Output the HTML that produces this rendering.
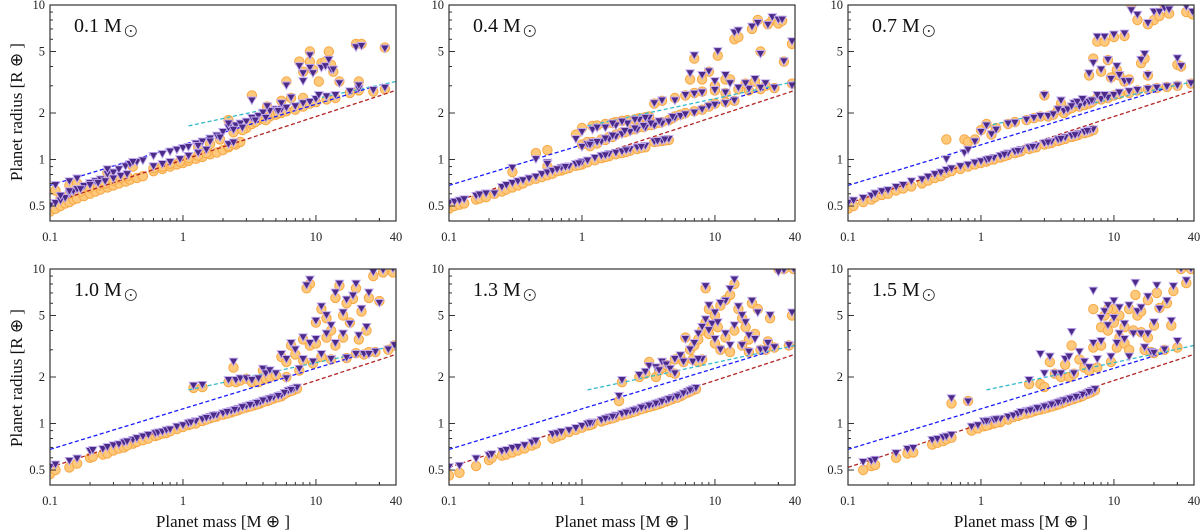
<!DOCTYPE html>
<html><head><meta charset="utf-8"><style>
html,body{margin:0;padding:0;background:#fff;}
svg{display:block;font-family:"Liberation Serif",serif;}
</style></head><body>
<svg id="chart" width="1200" height="532" viewBox="0 0 1200 532" xmlns="http://www.w3.org/2000/svg"></svg>
<script>
const panelLabels = ["0.1", "0.4", "0.7", "1.0", "1.3", "1.5"];
const xTicks = [0.1, 1, 10, 40];
const xTickLabels = ["0.1", "1", "10", "40"];
const yTicks = [0.5, 1, 2, 5, 10];
const yTickLabels = ["0.5", "1", "2", "5", "10"];
const blueLine = [[0.1,0.68],[25,2.9]];
const redLine = [[0.1,0.52],[40,2.8]];
const cyanLine = [[1.1,1.65],[40,3.2]];

// each entry: [mass, orange-circle radius, purple-triangle radius]
const panel1Points = [[0.1,0.46,0.5],[0.11,0.48,0.52],[0.12,0.5,0.54],[0.13,0.52,0.56],[0.14,0.53,0.6],[0.15,0.55,0.62],[0.16,0.56,0.64],[0.18,0.58,0.67],[0.2,0.6,0.7],[0.22,0.62,0.72],[0.24,0.64,0.74],[0.27,0.66,0.8],[0.3,0.68,0.82],[0.33,0.7,0.86],[0.37,0.72,0.9],[0.4,0.74,0.93],[0.45,0.76,0.96],[0.5,0.78,0.98],[0.6,0.84,1.05],[0.7,0.87,1.08],[0.8,0.9,1.12],[0.9,0.93,1.15],[1.0,0.95,1.18],[1.1,0.98,1.2],[1.25,1.01,1.26],[1.4,1.04,1.3],[1.6,1.08,1.36],[1.8,1.11,1.42],[2.0,1.15,1.5],[2.2,1.2,1.6],[2.5,1.25,1.65],[2.7,1.3,1.7],[3.0,1.6,1.75],[3.3,1.7,1.85],[3.7,1.8,1.9],[4.0,1.85,2.0],[4.5,1.9,2.05],[5.0,1.95,2.1],[5.5,2.0,2.1],[6,2.05,2.15],[7,2.1,2.2],[8,2.2,2.3],[9,2.3,2.35],[10,2.35,2.45],[12,2.45,2.55],[14,2.5,2.6],[18,2.7,2.75],[21,2.8,2.85],[27,2.75,2.8],[33,2.85,2.9],[0.11,0.63,0.68],[0.14,0.68,0.72],[0.16,0.7,0.75],[0.27,0.82,0.86],[0.42,0.9,0.96],[2.2,1.8,1.7],[3.3,2.6,2.4],[4.3,2.2,2.2],[5.5,2.4,2.3],[6,3.2,3.0],[6.5,2.5,2.5],[7.5,4.3,4.0],[8,3.7,3.6],[8,2.5,3.2],[9,5.0,4.7],[9,4.3,3.9],[9.5,3.8,3.6],[10.5,3.2,2.6],[11,4.2,3.9],[11.8,4.3,4.0],[12.5,5.0,4.4],[13,4.1,3.8],[13.5,3.7,3.8],[15,3.2,3.1],[20,5.6,5.3],[22,5.6,5.4],[21,3.2,3.0],[33,5.3,5.2],[0.12,0.56,0.58],[0.14,0.6,0.62],[0.17,0.62,0.64],[0.2,0.66,0.68],[0.23,0.68,0.7],[0.26,0.7,0.72],[0.3,0.73,0.75],[0.34,0.76,0.78],[0.38,0.78,0.8],[0.6,0.88,0.9],[0.7,0.9,0.93],[0.8,0.94,0.96],[0.95,0.97,1.0],[1.1,1.02,1.05],[1.3,1.06,1.1],[1.5,1.1,1.15],[2.2,1.22,1.25],[2.4,1.27,1.28],[1.3,1.2,1.22],[1.6,1.26,1.3],[1.9,1.35,1.38],[2.4,1.5,1.55],[2.8,1.55,1.6],[3.5,1.75,1.78],[4.2,1.8,1.85],[5.2,2.0,2.05]];
const panel2Points = [[0.1,0.48,0.52],[0.11,0.5,0.53],[0.12,0.51,0.54],[0.13,0.52,0.55],[0.16,0.55,0.58],[0.17,0.56,0.59],[0.19,0.57,0.6],[0.22,0.6,0.6],[0.25,0.62,0.66],[0.27,0.64,0.68],[0.3,0.66,0.7],[0.33,0.68,0.72],[0.36,0.7,0.73],[0.4,0.73,0.75],[0.45,0.75,0.77],[0.5,0.77,0.8],[0.55,0.79,0.82],[0.6,0.81,0.84],[0.7,0.85,0.88],[0.8,0.88,0.9],[0.9,0.91,0.93],[1.0,0.93,0.96],[1.1,0.96,0.98],[1.25,0.99,1.02],[1.4,1.02,1.05],[1.6,1.05,1.08],[1.8,1.08,1.1],[2.0,1.1,1.12],[2.3,1.14,1.16],[2.6,1.17,1.19],[3.0,1.2,1.22],[3.5,1.3,1.3],[4.0,1.32,1.32],[4.5,1.34,1.35],[1.0,1.25,1.2],[1.1,1.3,1.25],[1.2,1.3,1.28],[1.4,1.35,1.3],[1.6,1.4,1.35],[1.8,1.45,1.4],[2.0,1.5,1.45],[2.3,1.55,1.5],[2.6,1.6,1.55],[3,1.65,1.6],[3.5,1.7,1.65],[4,1.75,1.7],[4.5,1.8,1.75],[5,1.9,1.85],[5.5,1.95,1.9],[6,2.0,1.95],[7,2.05,2.0],[8,2.1,2.1],[9,2.2,2.2],[10,2.3,2.25],[12,2.35,2.3],[14,2.4,2.4],[0.9,1.45,1.35],[1.0,1.6,1.5],[1.2,1.65,1.55],[1.5,1.7,1.6],[1.8,1.75,1.65],[2.2,1.8,1.7],[2.7,1.85,1.8],[3.2,1.9,1.85],[3.5,2.3,2.3],[4,2.4,2.4],[5,2.5,2.4],[6,2.6,2.6],[7,2.7,2.65],[8,2.75,2.7],[10,2.8,2.8],[12,2.7,2.7],[15,2.85,2.9],[18,2.8,2.85],[22,2.85,2.9],[28,2.9,2.9],[38,3.1,3.0],[0.45,1.1,1.0],[0.55,1.15,0.95],[0.3,0.83,0.88],[0.55,0.9,0.93],[6.5,3.3,3.6],[7,4.5,4.7],[8,3.3,3.5],[9,3.7,3.7],[10,3.0,3.2],[10.5,4.7,5.0],[12,3.3,3.5],[13,3.3,3.1],[14,6.0,6.6],[15,6.2,6.8],[17,3.1,3.1],[19,7.0,7.2],[20,3.2,3.3],[22,5.0,4.8],[24,3.0,3.1],[27,8.0,8.3],[30,7.6,8.0],[32,7.9,8.0],[33,4.3,4.3],[38,5.6,5.8],[21,8.0,7.6],[25,7.5,7.4],[1.15,1.22,1.24],[1.3,1.27,1.29],[1.5,1.34,1.36],[1.7,1.4,1.42],[2.1,1.5,1.52],[2.5,1.57,1.58],[2.9,1.62,1.64],[3.3,1.67,1.7],[3.8,1.73,1.76],[4.8,1.85,1.88],[1.3,1.66,1.6],[1.7,1.72,1.7],[2.0,1.78,1.75],[2.5,1.82,1.8],[3.0,1.88,1.85],[0.65,0.84,0.86],[0.75,0.87,0.89],[0.95,0.92,0.94],[1.5,1.04,1.06],[2.15,1.12,1.14],[2.8,1.19,1.2],[3.7,1.31,1.31],[4.2,1.33,1.34]];
const panel3Points = [[0.1,0.48,0.52],[0.11,0.5,0.54],[0.13,0.53,0.56],[0.15,0.55,0.58],[0.16,0.57,0.6],[0.18,0.59,0.62],[0.2,0.6,0.63],[0.23,0.63,0.66],[0.26,0.65,0.68],[0.3,0.67,0.72],[0.36,0.7,0.74],[0.4,0.73,0.77],[0.45,0.76,0.8],[0.5,0.78,0.82],[0.55,0.82,0.85],[0.6,0.84,0.87],[0.7,0.87,0.9],[0.8,0.9,0.92],[0.9,0.93,0.95],[1.0,0.95,0.97],[1.1,0.97,0.99],[1.25,1.0,1.02],[1.4,1.03,1.05],[1.6,1.07,1.09],[1.8,1.1,1.12],[2.0,1.13,1.15],[2.3,1.17,1.19],[2.6,1.2,1.22],[3,1.25,1.27],[3.4,1.28,1.3],[3.8,1.32,1.34],[4.3,1.36,1.38],[4.8,1.4,1.42],[5.4,1.44,1.46],[6,1.48,1.5],[6.6,1.52,1.54],[7,1.55,1.56],[0.55,1.35,1.0],[0.75,1.35,1.1],[0.8,1.3,1.15],[0.9,1.35,1.3],[1.0,1.55,1.5],[1.1,1.7,1.65],[1.2,1.45,1.45],[1.3,1.6,1.55],[1.6,1.7,1.7],[1.8,1.75,1.72],[2.2,1.8,1.8],[2.5,1.85,1.85],[2.8,1.9,1.9],[3,2.6,2.6],[3.2,1.9,1.9],[3.5,1.95,1.95],[4,2.3,2.4],[4.2,2.0,2.05],[4.5,2.1,2.1],[5,2.2,2.3],[5.5,2.2,2.2],[6,2.25,2.3],[6.5,2.3,2.35],[7,2.4,2.4],[8,2.45,2.45],[9,2.5,2.5],[10,2.6,2.6],[11,2.65,2.7],[13,2.7,2.75],[15,2.8,2.8],[18,2.85,2.85],[21,2.9,2.9],[25,2.95,2.95],[30,3.0,3.0],[38,3.1,3.1],[6.5,3.5,3.6],[7,4.5,4.2],[7.5,5.8,6.2],[8,3.7,3.8],[8.5,5.8,6.2],[9,4.4,4.4],[9.5,3.4,3.3],[10,6.2,6.4],[10.5,3.8,4.0],[11,3.5,3.5],[12,3.2,3.2],[12,6.3,6.5],[13,3.3,3.2],[13.5,10,9.2],[15,8,8.6],[16,4.2,4.4],[17,4.5,4.8],[18,3.5,3.5],[20,8.0,9.0],[22,8.5,9.0],[24,10,9.5],[26,8.8,9.3],[30,4.1,4.5],[32,4.0,4.0],[35,9.0,9.7],[39,8.7,9.0],[18,7.5,7.6],[1.15,0.99,1.0],[1.5,1.05,1.07],[1.9,1.12,1.13],[2.45,1.19,1.2],[3.2,1.27,1.28],[4.0,1.34,1.35],[5.1,1.42,1.43],[6.3,1.5,1.52],[3.8,2.1,2.1],[4.8,2.15,2.2],[5.3,2.3,2.35],[5.8,2.4,2.45],[6.8,2.35,2.4],[7.5,2.5,2.6],[8.5,2.55,2.6]];
const panel4Points = [[0.1,0.47,0.52],[0.11,0.5,0.54],[0.14,0.52,0.57],[0.16,0.55,0.59],[0.2,0.6,0.66],[0.21,0.61,0.67],[0.25,0.63,0.68],[0.27,0.64,0.7],[0.3,0.67,0.72],[0.33,0.69,0.73],[0.42,0.74,0.78],[0.45,0.76,0.8],[0.5,0.78,0.82],[0.55,0.8,0.84],[0.62,0.83,0.86],[0.65,0.84,0.87],[0.7,0.86,0.88],[0.9,0.92,0.95],[1.0,0.95,0.97],[1.1,0.98,1.0],[1.25,1.0,1.03],[1.4,1.04,1.06],[1.6,1.08,1.1],[1.8,1.11,1.13],[2.0,1.14,1.16],[2.3,1.18,1.2],[2.6,1.22,1.24],[3.0,1.27,1.29],[3.4,1.31,1.33],[3.8,1.35,1.37],[4.3,1.4,1.42],[4.8,1.45,1.47],[5.5,1.5,1.52],[6.2,1.6,1.62],[6.8,1.65,1.67],[7.2,1.68,1.7],[2.8,1.25,1.27],[3.6,1.33,1.35],[4.5,1.42,1.44],[5.2,1.48,1.5],[1.2,1.7,1.75],[1.4,1.72,1.77],[2.2,1.85,1.9],[2.4,2.3,2.5],[2.5,1.85,1.9],[2.7,1.9,1.95],[3,1.95,1.95],[3.3,1.85,1.9],[3.7,1.85,1.95],[4,2.2,2.25],[4.2,1.95,2.1],[4.5,2.0,2.2],[5,2.05,2.1],[5.5,2.7,2.8],[6,2.5,2.6],[6,2.0,1.95],[6.5,3.2,3.3],[7,2.8,3.0],[7.5,2.2,2.25],[8,3.5,3.6],[8,2.55,2.6],[9,3.2,3.3],[9.5,2.45,2.5],[10,4.5,4.6],[10,3.3,3.5],[11,2.7,2.8],[12,4.8,5.0],[12,3.6,3.8],[13,2.6,2.6],[14,6.5,7.0],[14,3.2,3.3],[15,7.8,8.0],[16,5.0,5.2],[17,2.65,2.65],[18,4.5,4.4],[19,6.4,6.7],[20,7.5,8.0],[21,3.5,3.7],[22,5.3,5.5],[23,2.8,2.8],[25,6.5,7.0],[27,9.0,9.5],[28,2.9,2.9],[30,6.2,6.0],[32,9.5,9.8],[35,3.0,3.0],[38,9.5,10],[39,3.2,3.2],[25,2.9,2.8],[20,2.85,2.8],[9,8.0,8.5],[8.5,7.5,7.8],[1.15,0.99,1.01],[1.5,1.06,1.08],[1.7,1.1,1.12],[2.15,1.16,1.18],[2.45,1.2,1.22],[3.2,1.29,1.31],[4.0,1.38,1.4],[5.8,1.55,1.57],[6.5,1.62,1.64],[0.75,0.87,0.9],[0.8,0.89,0.91],[0.36,0.7,0.75],[0.38,0.72,0.76],[11,5.5,5.7],[13,4.0,4.3],[17,6.0,6.3],[16,3.6,3.8],[24,4.0,4.2]];
const panel5Points = [[0.1,0.46,0.52],[0.12,0.48,0.53],[0.16,0.53,0.59],[0.2,0.58,0.62],[0.21,0.6,0.63],[0.25,0.62,0.66],[0.27,0.63,0.67],[0.3,0.65,0.69],[0.33,0.67,0.7],[0.37,0.69,0.72],[0.42,0.72,0.75],[0.45,0.74,0.77],[0.6,0.8,0.85],[0.65,0.82,0.86],[0.7,0.84,0.88],[0.8,0.88,0.9],[0.9,0.91,0.93],[1.0,0.94,0.96],[1.1,0.97,0.99],[1.2,0.99,1.01],[1.4,1.03,1.05],[1.6,1.07,1.09],[1.8,1.1,1.12],[2.0,1.13,1.15],[2.3,1.17,1.19],[2.6,1.21,1.23],[3.0,1.26,1.28],[3.4,1.3,1.32],[3.8,1.34,1.36],[4.3,1.39,1.41],[4.8,1.44,1.46],[5.5,1.5,1.52],[6.2,1.58,1.6],[6.8,1.64,1.66],[7.2,1.67,1.69],[4.5,1.41,1.43],[5.2,1.47,1.49],[2.8,1.24,1.26],[3.6,1.32,1.34],[1.9,1.4,1.5],[2.0,1.85,1.9],[2.7,2.0,2.05],[3,2.1,2.15],[3.2,2.5,2.35],[3.6,2.0,2.3],[3.8,2.2,2.2],[4,2.3,2.5],[4.3,2.4,2.4],[4.6,2.15,2.25],[5,2.1,2.1],[5,2.6,2.6],[5.5,2.7,2.75],[5.8,2.5,2.5],[6,3.6,3.5],[6.5,3.0,3.0],[6.8,2.6,2.5],[7,3.2,3.3],[7.5,3.5,3.8],[8,4.0,4.2],[8,2.6,2.6],[8.5,4.5,4.7],[9,5.5,5.8],[9.5,4.3,4.4],[10,3.3,3.5],[10,5.0,5.2],[11,3.0,3.0],[12,3.6,3.8],[12,6.3,6.2],[13,2.9,3.2],[14,8.0,8.5],[14,4.0,4.3],[15,5.5,5.7],[16,3.2,3.2],[17,4.2,4.5],[18,2.9,2.9],[19,6.0,6.2],[20,3.8,3.5],[21,5.5,5.2],[22,3.0,3.0],[25,3.4,3.3],[28,3.1,3.1],[30,10,9.5],[33,10,9.8],[36,3.2,3.2],[38,5.0,5.2],[39,10,10],[24,3.0,3.0],[26,4.8,5.0],[8.5,7.5,7.7],[13,6.8,7.4],[1.15,0.98,1.0],[1.5,1.05,1.07],[1.7,1.08,1.1],[2.15,1.15,1.17],[2.45,1.19,1.21],[3.2,1.28,1.3],[4.0,1.36,1.38],[5.8,1.54,1.56],[6.5,1.61,1.63],[9,3.8,4.0],[10.5,4.2,4.5],[11,5.8,6.0],[7.5,2.5,2.6],[16,4.8,5.0],[18,3.5,3.7]];
const panel6Points = [[0.13,0.5,0.56],[0.15,0.53,0.57],[0.16,0.54,0.58],[0.23,0.6,0.64],[0.28,0.64,0.68],[0.31,0.65,0.69],[0.43,0.73,0.78],[0.47,0.75,0.79],[0.52,0.77,0.81],[0.55,0.79,0.82],[0.6,0.81,0.84],[0.85,0.9,0.95],[0.95,0.93,0.97],[1.05,0.96,1.03],[1.15,0.98,1.04],[1.25,1.0,1.05],[1.6,1.06,1.1],[1.75,1.1,1.12],[2.2,1.16,1.2],[2.5,1.2,1.23],[2.8,1.23,1.26],[3.2,1.27,1.3],[3.6,1.31,1.34],[4,1.35,1.38],[4.5,1.4,1.42],[5,1.44,1.46],[5.5,1.48,1.5],[6.2,1.55,1.56],[6.8,1.6,1.62],[7.2,1.64,1.66],[1.4,1.02,1.07],[1.9,1.12,1.15],[3.4,1.29,1.32],[4.2,1.37,1.4],[5.8,1.51,1.53],[6.5,1.57,1.59],[3,1.25,1.28],[2.0,1.14,1.18],[0.6,1.35,1.45],[0.8,1.4,1.38],[2.3,1.8,1.9],[2.8,1.8,2.8],[3.0,1.72,2.1],[3.3,2.5,2.7],[3.6,2.1,2.1],[4,2.0,2.1],[4.3,2.4,2.6],[4.6,2.0,2.7],[4.8,3.2,3.9],[5,2.1,2.1],[5.5,2.6,2.9],[6,2.3,2.5],[6.5,2.2,2.3],[7,5.5,7.2],[7,3.1,3.3],[7.5,2.3,2.6],[8,4.2,4.8],[8.5,5.0,5.3],[9,4.0,4.3],[9.5,2.5,2.7],[10,5.5,6.2],[10.5,3.1,3.3],[11,5.0,5.6],[12,3.3,3.5],[13,3.0,2.7],[14,4.0,3.8],[14.5,6.8,8.1],[15,5.0,5.3],[16,3.9,3.8],[17,3.0,3.1],[18,6.3,6.6],[19,2.9,2.9],[20,4.3,4.5],[21,7.0,7.8],[22,5.6,5.5],[24,3.0,3.0],[25,6.0,6.2],[27,4.3,4.6],[28,7.2,7.7],[30,3.1,3.4],[32,10,10],[35,8.1,8.4],[38,10,10],[18,3.6,3.8],[20,2.85,2.85],[2.35,1.18,1.21],[2.65,1.22,1.25],[3.8,1.33,1.36],[4.7,1.42,1.44],[5.2,1.46,1.48],[1.1,0.97,1.03],[1.3,1.01,1.06],[9,5.5,5.8],[10,4.5,4.8],[12,4.2,4.4],[13,5.5,5.8],[16,5.3,5.6],[11,3.6,3.8],[8,3.2,3.4]];
const allPanels = [panel1Points, panel2Points, panel3Points, panel4Points, panel5Points, panel6Points];

const NS = "http://www.w3.org/2000/svg";
const svg = document.getElementById("chart");
const colLeft = [50, 449, 848], rowTop = [5, 269];
const PW = 346, PH = 216;
const XMIN = 0.1, XMAX = 40, YMIN = 0.4, YMAX = 10;
function mk(tag, attrs, parent) {
  const e = document.createElementNS(NS, tag);
  for (const k in attrs) e.setAttribute(k, attrs[k]);
  (parent || svg).appendChild(e);
  return e;
}
allPanels.forEach((pts, i) => {
  const L = colLeft[i % 3], T = rowTop[Math.floor(i / 3)];
  const xs = m => L + PW * Math.log10(m / XMIN) / Math.log10(XMAX / XMIN);
  const ys = r => T + PH * (1 - Math.log10(r / YMIN) / Math.log10(YMAX / YMIN));
  const g = mk("g", {});
  
  
  const cp = mk("clipPath", { id: "cp" + i }, g);
  mk("rect", { x: L, y: T, width: PW, height: PH }, cp);
  const pg = mk("g", { "clip-path": "url(#cp" + i + ")" }, g);
  pts.forEach(p => {
    const c = mk("circle", { cx: xs(p[0]).toFixed(1), cy: ys(p[1]).toFixed(1), r: 4.7, fill: "#ffc97c", stroke: "#f7a845", "stroke-width": 1 }, pg);
    
    
  });
  [[redLine, "#b22222", "red-fit-line"], [blueLine, "#1a1aff", "blue-fit-line"], [cyanLine, "#33bbcc", "cyan-fit-line"]].forEach(([ln, col, nm]) => {
    const pl = mk("polyline", { points: ln.map(q => xs(q[0]).toFixed(1) + "," + ys(q[1]).toFixed(1)).join(" "), fill: "none", stroke: col, "stroke-width": 1.3, "stroke-dasharray": "4,2.5" }, pg);
    
    
  });
  pts.forEach(p => {
    const x = xs(p[0]), y = ys(p[2]);
    const t = mk("polygon", { points: `${(x-4.3).toFixed(1)},${(y-3.8).toFixed(1)} ${(x+4.3).toFixed(1)},${(y-3.8).toFixed(1)} ${x.toFixed(1)},${(y+3.8).toFixed(1)}`, fill: "#4b2a88", stroke: "#c0aaee", "stroke-width": 0.9 }, pg);
    
    
  });
  const fr = mk("rect", { x: L, y: T, width: PW, height: PH, fill: "none", stroke: "#333", "stroke-width": 1.2 }, g);
  
  
  for (let d = -1; d <= 1; d++) for (let k = 1; k <= 9; k++) {
    const m = k * Math.pow(10, d);
    if (m < XMIN || m > XMAX) continue;
    const x = xs(m), len = k === 1 ? 6 : 3;
    mk("line", { x1: x, x2: x, y1: T + PH, y2: T + PH - len, stroke: "#333", "stroke-width": 1 }, g);
  }
  for (let k = 2; k <= 4; k++) { const m = k*10; mk("line", { x1: xs(m), x2: xs(m), y1: T+PH, y2: T+PH-3, stroke: "#333" }, g); }
  xTicks.forEach((v, j) => {
    const t = mk("text", { x: xs(v), y: T + PH + 20, "text-anchor": "middle", "font-size": 12.5, fill: "#222" }, g);
    t.textContent = xTickLabels[j];
    
    
  });
  for (let d = -1; d <= 0; d++) for (let k = 1; k <= 9; k++) {
    const r = k * Math.pow(10, d);
    if (r < YMIN || r > YMAX) continue;
    const y = ys(r), len = (k === 1 || k === 5 || k === 2) ? 6 : 3;
    mk("line", { x1: L, x2: L + len, y1: y, y2: y, stroke: "#333" }, g);
  }
  mk("line", { x1: L, x2: L + 6, y1: ys(10), y2: ys(10), stroke: "#333" }, g);
  yTicks.forEach((v, j) => {
    const t = mk("text", { x: L - 5, y: ys(v) + 4, "text-anchor": "end", "font-size": 12.5, fill: "#222" }, g);
    t.textContent = yTickLabels[j];
    
    
  });
  const lb = mk("text", { x: L + 24, y: T + 27, "font-size": 20, fill: "#111" }, g);
  lb.textContent = panelLabels[i] + " M";
  
  
  const sx = L + 24 + lb.getComputedTextLength() + 9;
  mk("circle", { cx: sx, cy: T + 26, r: 5.5, fill: "none", stroke: "#222", "stroke-width": 0.8 }, g);
  mk("circle", { cx: sx, cy: T + 26, r: 1, fill: "#222" }, g);
});
[112, 378].forEach(cy => {
  const t = mk("text", { x: 0, y: 0, transform: `translate(22,${cy}) rotate(-90)`, "text-anchor": "middle", "font-size": 17, fill: "#111" });
  t.textContent = "Planet radius [R ⊕ ]";
  
  
});
colLeft.forEach(L => {
  const t = mk("text", { x: L + PW / 2, y: 527, "text-anchor": "middle", "font-size": 17, fill: "#111" });
  t.textContent = "Planet mass [M ⊕ ]";
  
  
});
</script>
</body></html>
